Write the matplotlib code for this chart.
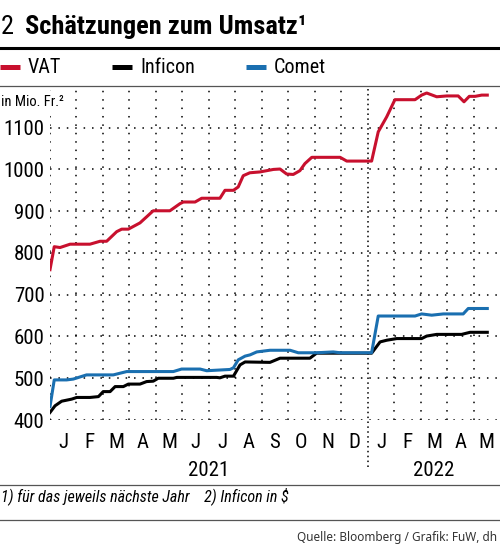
import matplotlib
matplotlib.use('Agg')
import matplotlib.pyplot as plt
from matplotlib.lines import Line2D

# x values: months since 1 Jan 2021
vat_x = [0, 0.16, 0.38, 0.76, 1.51, 1.89, 2.14, 2.52, 2.71, 2.96, 3.40, 3.90, 4.53, 4.91,
         5.04, 5.48, 5.73, 6.42, 6.61, 6.93, 7.11, 7.30, 7.55, 7.93, 8.44, 8.69, 8.94, 9.19,
         9.44, 9.63, 9.89, 10.96, 11.21, 12.15, 12.40, 12.72, 13.03, 13.79, 14.04, 14.23,
         14.61, 14.99, 15.42, 15.64, 15.84, 16.06, 16.31, 16.52]
vat_y = [760, 815, 813, 821, 821, 828, 828, 851, 857, 857, 872, 901, 901, 918,
         922, 922, 931, 931, 950, 950, 958, 985, 992, 994, 1000, 1001, 989, 988,
         997, 1014, 1029, 1029, 1020, 1020, 1090, 1126, 1167, 1167, 1178, 1183,
         1174, 1176, 1176, 1162, 1175, 1175, 1178, 1178]

comet_x = [0, 0.16, 0.63, 0.88, 1.38, 2.39, 2.90, 4.66, 4.97, 5.67, 5.92, 6.80, 6.93, 7.11,
           7.37, 7.56, 7.81, 8.31, 9.07, 9.38, 10.07, 10.70, 10.96, 12.15, 12.40, 13.79,
           14.04, 14.42, 14.86, 15.61, 15.80, 16.52]
comet_y = [432, 496, 496, 498, 508, 508, 516, 516, 522, 522, 518, 521, 525, 544,
           553, 556, 563, 567, 567, 561, 561, 563, 561, 561, 649, 649,
           654, 651, 654, 654, 667, 667]

inficon_x = [0, 0.19, 0.44, 0.82, 1.01, 1.51, 1.83, 2.01, 2.27, 2.46, 2.77, 2.96, 3.40, 3.65,
             3.90, 4.09, 4.66, 4.79, 6.30, 6.42, 6.61, 6.93, 7.18, 7.37, 8.31, 8.69, 9.82,
             10.07, 12.15, 12.47, 12.72, 13.10, 14.04, 14.23, 14.61, 15.55, 15.87, 16.52]
inficon_y = [418, 434, 445, 450, 454, 454, 456, 468, 468, 480, 480, 486, 486, 492,
             493, 500, 500, 502, 502, 501, 505, 505, 532, 539, 538, 548, 548,
             560, 560, 587, 591, 595, 595, 601, 605, 605, 610, 610]

month_labels = ['J', 'F', 'M', 'A', 'M', 'J', 'J', 'A', 'S', 'O', 'N', 'D',
                'J', 'F', 'M', 'A', 'M']
y_ticks = [400, 500, 600, 700, 800, 900, 1000, 1100]

RED = '#c8102e'
BLUE = '#1a6fb0'
BLACK = '#000000'
COND = ['Roboto Condensed', 'DejaVu Sans']

W, H = 500, 545
fig = plt.figure(figsize=(W / 100, H / 100), dpi=100)


def fx(px):
    return px / W


def fy(py):
    return 1 - py / H


# ── header ──
fig.text(fx(1), fy(27), '2', family=COND, fontsize=19, va='center', ha='left')
fig.text(fx(25), fy(27), 'Schätzungen zum Umsatz¹', family=COND, fontsize=19,
         fontweight='bold', va='center', ha='left')
fig.add_artist(Line2D([0, 1], [fy(47.5)] * 2, color='black', linewidth=2.2))

# legend row
for x0, col, lab in [(0, RED, 'VAT'), (112, BLACK, 'Inficon'), (246, BLUE, 'Comet')]:
    fig.add_artist(Line2D([fx(x0), fx(x0 + 20)], [fy(67)] * 2, color=col,
                          linewidth=3.6, solid_capstyle='butt'))
    fig.text(fx(x0 + 28), fy(67), lab, family=COND, fontsize=14.5, va='center', ha='left')
fig.add_artist(Line2D([0, 1], [fy(85.5)] * 2, color='#555555', linewidth=0.9))

# ── chart ──
ax = fig.add_axes([fx(50), fy(420), fx(450), (420 - 88) / H])
ax.set_xlim(0, 17)
ax.set_ylim(400, 1195)

grid_kw = dict(color='black', linewidth=1.1, linestyle=(0, (1, 4.5)), zorder=0)
for v in y_ticks:
    ax.axhline(v, **grid_kw)
for m in range(17):
    if m != 12:
        ax.axvline(m, **grid_kw)
# year separator, reaching down into the label rows
ax.axvline(12, ymin=-0.142, ymax=1, color='black', linewidth=1.1,
           linestyle=(0, (1, 2.2)), clip_on=False, zorder=0)

ax.plot(inficon_x, inficon_y, color=BLACK, linewidth=2.2, zorder=3)
ax.plot(comet_x, comet_y, color=BLUE, linewidth=2.2, zorder=3)
ax.plot(vat_x, vat_y, color=RED, linewidth=2.2, zorder=4)

ax.set_yticks(y_ticks)
ax.set_yticklabels([str(v) for v in y_ticks], family=COND, fontsize=15)
ax.set_xticks([m + 0.5 for m in range(17)])
ax.set_xticklabels(month_labels, family=COND, fontsize=15)
ax.tick_params(axis='y', length=0, pad=4)
ax.tick_params(axis='x', length=0, pad=9)
for s in ax.spines.values():
    s.set_visible(False)
ax.patch.set_alpha(0)

fig.text(fx(1), fy(102), 'in Mio. Fr.²', family=COND, fontsize=10.5, va='center', ha='left',
         bbox=dict(facecolor='white', edgecolor='none', pad=3))

fig.text(fx(209), fy(470), '2021', family=COND, fontsize=15, ha='center', va='center')
fig.text(fx(434), fy(470), '2022', family=COND, fontsize=15, ha='center', va='center')

# ── footer ──
fig.add_artist(Line2D([0, 1], [fy(485)] * 2, color='#555555', linewidth=0.9))
fig.text(fx(1), fy(496), '1) für das jeweils nächste Jahr    2) Inficon in $', family=COND,
         fontsize=11.5, style='italic', va='center', ha='left')
fig.add_artist(Line2D([0, 1], [fy(520)] * 2, color='#555555', linewidth=0.9))
fig.text(fx(497), fy(538), 'Quelle: Bloomberg / Grafik: FuW, dh', family='Noto Sans',
         fontsize=8.5, color='#333333', va='center', ha='right')

fig.savefig('out.png', dpi=100)
